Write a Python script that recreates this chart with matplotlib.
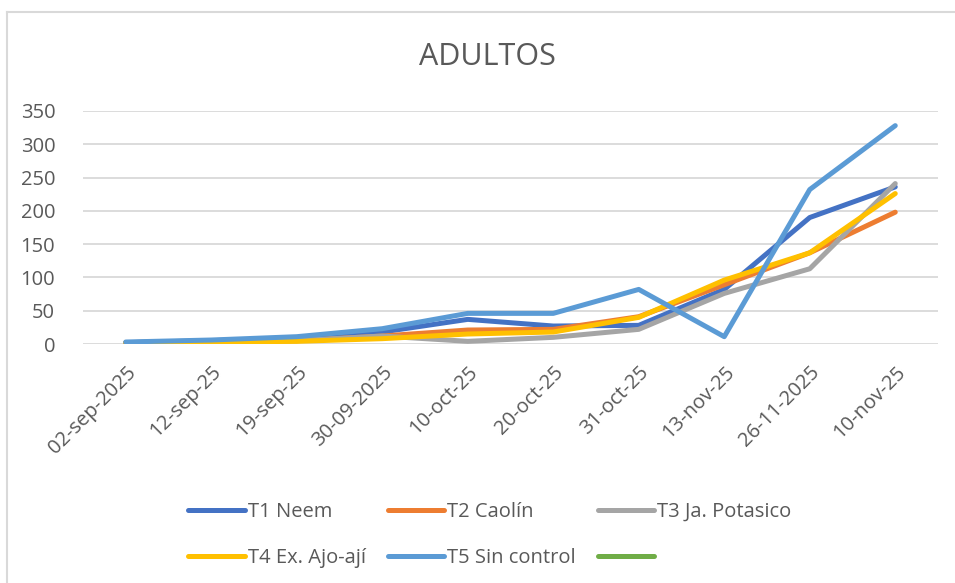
import matplotlib.pyplot as plt
from matplotlib.lines import Line2D

fechas = ['02-sep-2025', '12-sep-25', '19-sep-25', '30-09-2025', '10-oct-25',
          '20-oct-25', '31-oct-25', '13-nov-25', '26-11-2025', '10-nov-25']

t1_neem = [2, 5, 9, 18, 37, 27, 28, 82, 190, 236]
t2_caolin = [2, 4, 5, 12, 21, 22, 41, 89, 137, 198]
t3_potasico = [2, 4, 5, 12, 4, 10, 22, 76, 113, 241]
t4_ajo_aji = [2, 3, 4, 8, 15, 18, 40, 96, 137, 226]
t5_sin_control = [3, 6, 11, 23, 46, 46, 82, 11, 232, 328]

nombres = ['T1 Neem', 'T2 Caolín', 'T3 Ja. Potasico', 'T4 Ex. Ajo-ají', 'T5 Sin control', '']
colores = ['#4472C4', '#ED7D31', '#A5A5A5', '#FFC000', '#5B9BD5', '#70AD47']

plt.rcParams['font.family'] = ['Open Sans', 'DejaVu Sans']
gris = '#595959'

fig = plt.figure(figsize=(9.55, 5.83), dpi=100)
ax = fig.add_axes([83 / 955, 1 - 344 / 583, (938 - 83) / 955, (344 - 111) / 583])

x = range(len(fechas))
series = [t1_neem, t2_caolin, t3_potasico, t4_ajo_aji, t5_sin_control]
handles = []
for vals, nom, col in zip(series, nombres, colores):
    h, = ax.plot(x, vals, color=col, lw=3.6, solid_joinstyle='round', solid_capstyle='round')
    handles.append(h)
# sexta serie sin datos (solo aparece en la leyenda)
handles.append(Line2D([], [], color=colores[5], lw=3.6, solid_capstyle='round'))

ax.set_xlim(-0.5, len(fechas) - 0.5)
ax.set_ylim(0, 350)
ax.set_yticks(range(0, 351, 50))
ax.yaxis.grid(True, color='#D9D9D9', lw=1.3)
ax.set_axisbelow(True)
for s in ax.spines.values():
    s.set_visible(False)
ax.tick_params(length=0, colors=gris, labelsize=14.5)
ax.tick_params(axis='y', pad=20)
ax.set_xticks(list(x))
ax.set_xticklabels(fechas, rotation=45, ha='right', rotation_mode='anchor')
ax.tick_params(axis='x', pad=13)

fig.text(487 / 955, 1 - 57 / 583, 'ADULTOS', ha='center', va='center', fontsize=22, color=gris)

# orden por filas
orden = [0, 3, 1, 4, 2, 5]
fig.legend([handles[i] for i in orden], [nombres[i] for i in orden], ncol=3,
           loc='upper center', bbox_to_anchor=(490 / 955, 1 - 484 / 583),
           frameon=False, fontsize=14.5, labelcolor=gris, handlelength=2.8,
           handletextpad=0.15, columnspacing=1.1, labelspacing=1.3)

# borde del grafico
fig.add_artist(Line2D([7 / 955, 7 / 955], [0, 1 - 12 / 583], color='#D9D9D9', lw=1.5))
fig.add_artist(Line2D([7 / 955, 1], [1 - 12 / 583, 1 - 12 / 583], color='#D9D9D9', lw=1.5))

fig.savefig('out.png', dpi=100)
